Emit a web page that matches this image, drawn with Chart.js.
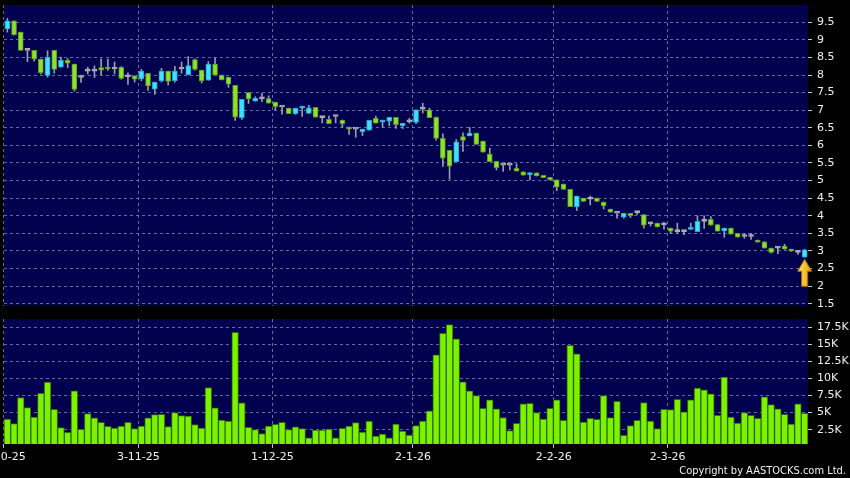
<!DOCTYPE html>
<html lang="en">
<head>
    <meta charset="UTF-8">
    <title>Candlestick + volume</title>
    <script src="https://cdn.jsdelivr.net/npm/chart.js"></script>
    <style>
        html, body { margin: 0; padding: 0; background: #000; }
        #wrap { position: relative; width: 850px; height: 478px; overflow: hidden; }
        #price { position: absolute; left: 0; top: 0; }
        #vol { position: absolute; left: 0; top: 310px; }
        #copy {
            position: absolute; right: 4px; bottom: 1px;
            color: #f0f0f0; font: 11px "DejaVu Sans Condensed", "DejaVu Sans", sans-serif;
        }
    </style>
</head>
<body>
<div id="wrap">
    <canvas id="price" width="850" height="310"></canvas>
    <canvas id="vol" width="850" height="168"></canvas>
    <div id="copy">Copyright by AASTOCKS.com Ltd.</div>
</div>

<script>
// trading days per month
const oct25 = [2,3,6,8,9,10,13,14,15,16,17,20,21,22,23,24,27,28,30,31];
const nov25 = [3,4,5,6,7,10,11,12,13,14,17,18,19,20,21,24,25,26,27,28];
const dec25 = [1,2,3,4,5,8,9,10,11,12,15,16,17,18,19,22,23,24,29,30,31];
const jan26 = [2,5,6,7,8,9,12,13,14,15,16,19,20,21,22,23,26,27,28,29,30];
const feb26 = [2,3,4,5,6,9,10,11,12,13,16,20,23,24,25,26,27];
const mar26 = [2,3,4,5,6,9,10,11,12,13,16,17,18,19,20,23,24,25,26,27,30];

const dates = [].concat(
    oct25.map(d => d + '-10-25'), nov25.map(d => d + '-11-25'),
    dec25.map(d => d + '-12-25'), jan26.map(d => d + '-1-26'),
    feb26.map(d => d + '-2-26'), mar26.map(d => d + '-3-26'));

const open = [9.31,9.54,9.22,8.70,8.70,8.45,7.99,8.70,8.22,8.42, 8.31,7.93,8.11,8.11,8.21,8.21,8.17,8.22,7.95,7.98,
              7.89,8.05,7.60,7.83,8.11,7.84,8.17,8.01,8.44,8.14, 7.85,8.31,8.00,7.94,7.71,6.79,7.50,7.26,7.32,7.33,
              7.23,7.09,7.06,6.90,7.06,6.91,7.08,6.79,6.74,6.82, 6.72,6.52,6.46,6.39,6.43,6.77,6.66,6.69,6.80,6.56,
              6.67,6.65,7.03,7.01,6.80,6.20,5.86,5.54,6.25,6.27, 6.35,6.12,5.75,5.55,5.44,5.44,5.35,5.25,5.17,5.22,
              5.15,5.09,5.02,4.90,4.75,4.26,4.50,4.47,4.50,4.39, 4.19,4.07,3.96,4.07,4.09,4.03,3.77,3.79,3.74,3.65,
              3.55,3.55,3.61,3.55,3.84,3.90,3.75,3.57,3.65,3.50, 3.41,3.41,3.31,3.26,3.08,3.08,3.14,3.05,2.96,2.82];
const high = [9.61,9.54,9.22,8.70,8.70,8.45,8.69,8.70,8.51,8.47, 8.31,8.00,8.22,8.26,8.46,8.45,8.37,8.24,8.06,7.98,
              8.16,8.05,7.80,8.19,8.11,8.25,8.37,8.52,8.46,8.14, 8.38,8.49,8.00,7.94,7.71,7.31,7.50,7.38,7.48,7.41,
              7.23,7.09,7.06,7.06,7.12,7.14,7.08,6.82,6.83,6.83, 6.72,6.52,6.46,6.46,6.71,6.83,6.72,6.80,6.80,6.63,
              6.77,7.01,7.20,7.06,6.81,6.33,5.86,6.17,6.36,6.51, 6.35,6.12,5.92,5.55,5.44,5.44,5.48,5.25,5.21,5.22,
              5.15,5.09,5.02,4.90,4.75,4.56,4.50,4.56,4.50,4.39, 4.19,4.07,4.07,4.07,4.12,4.03,3.82,3.79,3.81,3.65,
              3.79,3.58,3.79,4.00,4.00,3.98,3.75,3.65,3.65,3.50, 3.50,3.50,3.31,3.26,3.08,3.10,3.19,3.05,3.02,3.05];
const low = [9.22,9.13,8.70,8.38,8.39,8.03,7.94,8.05,8.22,8.21, 7.54,7.79,8.03,7.93,8.01,8.13,8.03,7.88,7.73,7.80,
             7.84,7.56,7.45,7.80,7.71,7.80,8.05,8.00,8.14,7.77, 7.85,8.00,7.86,7.65,6.71,6.74,7.19,7.26,7.24,7.20,
             7.01,6.89,6.90,6.88,6.82,6.91,6.80,6.64,6.62,6.64, 6.51,6.31,6.23,6.28,6.43,6.63,6.51,6.56,6.48,6.48,
             6.63,6.62,6.92,6.79,6.15,5.40,5.04,5.54,5.83,6.27, 6.03,5.81,5.54,5.30,5.26,5.30,5.27,5.15,5.02,5.13,
             5.08,5.02,4.71,4.75,4.26,4.15,4.41,4.31,4.41,4.19, 4.10,3.93,3.93,3.95,4.03,3.65,3.71,3.68,3.62,3.49,
             3.49,3.46,3.61,3.55,3.64,3.73,3.56,3.39,3.48,3.39, 3.36,3.33,3.25,3.08,2.94,2.92,3.05,2.99,2.90,2.82];
const close = [9.54,9.15,8.70,8.70,8.45,8.07,8.51,8.16,8.42,8.34, 7.59,7.93,8.11,8.11,8.14,8.17,8.17,7.90,7.95,7.88,
               8.11,7.69,7.80,8.11,7.82,8.11,8.17,8.27,8.16,7.83, 8.31,8.00,7.86,7.74,6.80,7.31,7.32,7.34,7.32,7.20,
               7.10,7.09,6.90,7.06,7.12,7.07,6.80,6.79,6.62,6.82, 6.62,6.46,6.46,6.46,6.71,6.63,6.72,6.80,6.59,6.63,
               6.67,7.01,7.03,6.79,6.20,5.64,5.41,6.10,6.14,6.35, 6.03,5.81,5.54,5.37,5.44,5.44,5.27,5.15,5.21,5.13,
               5.08,5.02,4.81,4.75,4.26,4.56,4.41,4.47,4.41,4.28, 4.10,4.07,4.07,4.00,4.09,3.73,3.77,3.68,3.74,3.56,
               3.55,3.55,3.67,3.84,3.84,3.73,3.56,3.65,3.48,3.39, 3.41,3.41,3.25,3.08,2.96,3.08,3.05,2.99,2.96,3.03];
// volume in thousands
const volume = [4.07,3.38,7.2,5.74,4.36,7.84,9.46,5.49,2.79,2.11, 8.19,2.55,4.85,4.22,3.58,2.99,2.75,3.04,3.58,2.65,
                3.04,4.22,4.71,4.75,2.94,5.0,4.56,4.51,3.24,2.75, 8.68,5.69,3.92,3.77,16.76,6.42,2.84,2.5,1.91,3.04,
                3.28,3.58,2.5,2.92,2.65,1.32,2.45,2.45,2.6,1.32, 2.7,3.04,3.53,2.16,3.77,1.57,1.86,1.32,3.33,2.3,
                1.72,3.09,3.77,5.25,13.48,16.62,17.89,15.83,9.51,8.19, 7.5,5.64,6.86,5.54,4.26,2.35,3.43,6.27,6.37,5.0,
                4.07,5.64,6.86,3.87,14.85,13.63,3.63,4.17,4.02,7.5, 4.26,6.67,1.67,3.09,3.87,6.47,3.77,2.65,5.49,5.44,
                6.96,5.1,6.86,8.58,8.33,7.75,4.61,10.2,4.36,3.48, 5.0,4.61,4.17,7.3,6.18,5.54,4.75,3.33,6.27,4.9];

const priceTicks = [1.5,2,2.5,3,3.5,4,4.5,5,5.5,6,6.5,7,7.5,8,8.5,9,9.5];
const volTicks = [2.5,5,7.5,10,12.5,15,17.5];

const gridCol = 'rgba(130,140,190,0.75)';
const tickFont = { family: 'DejaVu Sans', size: 11 };
const isMonthStart = i => i === 0 || (i > 0 && i < dates.length && dates[i].split('-')[1] !== dates[i - 1].split('-')[1]);

const bodyColor = open.map((o, i) => close[i] > o ? '#3ee2ff' : close[i] < o ? '#8ee032' : '#b0b0b0');
const bodyBorder = open.map((o, i) => close[i] > o ? '#23a8cc' : close[i] < o ? '#5a9c1c' : '#b0b0b0');

// navy plot background
const plotBg = {
    id: 'plotBg',
    beforeDraw(chart) {
        const a = chart.chartArea, c = chart.ctx;
        c.save();
        c.fillStyle = '#00004e';
        c.fillRect(a.left, a.top, a.right - a.left, a.bottom - a.top);
        c.restore();
    }
};

// yellow arrow under the last candle
const lastArrow = {
    id: 'lastArrow',
    afterDatasetsDraw(chart) {
        const n = close.length - 1;
        const x = chart.scales.x.getPixelForValue(n);
        const y = chart.scales.y.getPixelForValue(low[n]) + 2;
        const c = chart.ctx;
        const g = c.createLinearGradient(x - 7, 0, x + 7, 0);
        g.addColorStop(0, '#ffe866');
        g.addColorStop(1, '#e89a00');
        c.save();
        c.beginPath();
        c.moveTo(x, y);
        c.lineTo(x + 7, y + 12);
        c.lineTo(x + 3, y + 12);
        c.lineTo(x + 3, y + 27);
        c.lineTo(x - 3, y + 27);
        c.lineTo(x - 3, y + 12);
        c.lineTo(x - 7, y + 12);
        c.closePath();
        c.fillStyle = g;
        c.fill();
        c.strokeStyle = '#a86a00';
        c.lineWidth = 1;
        c.stroke();
        c.restore();
    }
};

const xGrid = {
    offset: true,
    color: c => isMonthStart(c.index) ? gridCol : 'rgba(0,0,0,0)',
    lineWidth: 1
};

function noPad(s) { s.paddingLeft = 0; s.paddingRight = 0; s.paddingTop = 0; s.paddingBottom = 0; }

new Chart(document.getElementById('price'), {
    type: 'bar',
    data: {
        labels: dates,
        datasets: [{
            data: open.map((o, i) => [o, close[i]]),
            backgroundColor: bodyColor,
            borderColor: bodyBorder,
            borderWidth: 1,
            borderSkipped: false,
            barThickness: 5,
            minBarLength: 2,
            grouped: false,
            order: 0
        }, {
            data: low.map((l, i) => [l, high[i]]),
            backgroundColor: '#9c9cb0',
            barThickness: 1,
            grouped: false,
            order: 1
        }]
    },
    options: {
        responsive: false,
        animation: false,
        layout: { padding: { left: 4, top: 5, right: 0, bottom: 4 } },
        plugins: { legend: { display: false }, tooltip: { enabled: false } },
        scales: {
            x: {
                grid: Object.assign({ drawTicks: false }, xGrid),
                border: { display: false, dash: [3, 3] },
                ticks: { display: false },
                afterFit(s) { s.height = 0; noPad(s); }
            },
            y: {
                position: 'right',
                min: 1.435,
                max: 9.99,
                afterBuildTicks(s) { s.ticks = priceTicks.map(v => ({ value: v })); },
                afterFit(s) { s.width = 42; noPad(s); },
                grid: { color: gridCol, tickColor: '#c8c8c8', tickLength: 4, tickBorderDash: [4, 0] },
                border: { display: false, dash: [3, 3] },
                ticks: { color: '#f0f0f0', font: tickFont, padding: 5, callback: v => String(v) }
            }
        }
    },
    plugins: [plotBg, lastArrow]
});

new Chart(document.getElementById('vol'), {
    type: 'bar',
    data: {
        labels: dates,
        datasets: [{
            data: volume,
            backgroundColor: '#7cf200',
            borderColor: '#2e6a00',
            borderWidth: 1,
            barPercentage: 1,
            categoryPercentage: 1
        }]
    },
    options: {
        responsive: false,
        animation: false,
        layout: { padding: { left: 4, top: 9, right: 0, bottom: 0 } },
        plugins: { legend: { display: false }, tooltip: { enabled: false } },
        scales: {
            x: {
                grid: Object.assign({
                    tickLength: 4,
                    tickColor: c => isMonthStart(c.index) ? '#bbbbbb' : 'rgba(0,0,0,0)',
                    tickBorderDash: [4, 0]
                }, xGrid),
                border: { display: false, dash: [3, 3] },
                ticks: {
                    autoSkip: false,
                    maxRotation: 0,
                    color: '#f0f0f0',
                    font: tickFont,
                    padding: 3,
                    labelOffset: -3,
                    callback: (v, i) => isMonthStart(i) ? dates[i] : ''
                },
                afterFit(s) { s.height = 34; noPad(s); }
            },
            y: {
                position: 'right',
                min: 0.4,
                max: 18.72,
                afterBuildTicks(s) { s.ticks = volTicks.map(v => ({ value: v })); },
                afterFit(s) { s.width = 42; noPad(s); },
                grid: { color: gridCol, tickColor: '#c8c8c8', tickLength: 4, tickBorderDash: [4, 0] },
                border: { display: false, dash: [3, 3] },
                ticks: { color: '#f0f0f0', font: tickFont, padding: 5, callback: v => v + 'K' }
            }
        }
    },
    plugins: [plotBg]
});
</script>
</body>
</html>
